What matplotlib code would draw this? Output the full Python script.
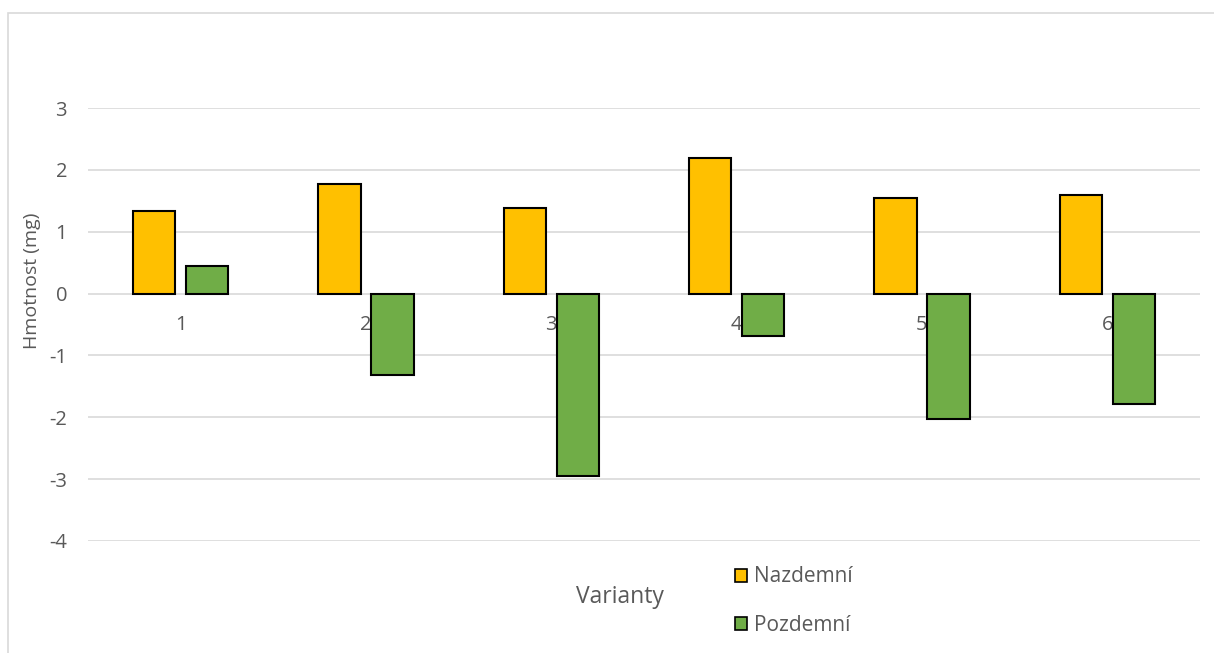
import numpy as np
import matplotlib
matplotlib.use("Agg")
import matplotlib.pyplot as plt
from matplotlib.patches import Rectangle, Patch

plt.rcParams["font.family"] = ["Open Sans", "DejaVu Sans"]
plt.rcParams["axes.unicode_minus"] = False

categories = ["1", "2", "3", "4", "5", "6"]
nazdemni = [1.34, 1.77, 1.39, 2.19, 1.55, 1.60]
pozdemni = [0.44, -1.32, -2.95, -0.69, -2.03, -1.79]
yticks = [-4, -3, -2, -1, 0, 1, 2, 3]

YELLOW = "#FFC000"
GREEN = "#70AD47"
GRID = "#D9D9D9"
TXT = "#595959"

W, H = 1214, 653
fig = plt.figure(figsize=(W / 100, H / 100), dpi=100)

# chart frame
fig.patches.append(Rectangle((8 / W, -0.05), 1.2, (H - 13) / H + 0.05,
                             transform=fig.transFigure, fill=False,
                             edgecolor=GRID, lw=1.2))

ax = fig.add_axes([88 / W, (H - 541) / H, 1112 / W, 433 / H])
x = np.arange(len(categories))
bw = 0.227
ax.bar(x - 0.143, nazdemni, bw, color=YELLOW, edgecolor="black", lw=1.5,
       label="Nazdemní", zorder=3)
ax.bar(x + 0.143, pozdemni, bw, color=GREEN, edgecolor="black", lw=1.5,
       label="Pozdemní", zorder=3)

ax.set_xlim(-0.5, 5.5)
ax.set_ylim(-4, 3)
ax.set_yticks(yticks)
ax.set_yticklabels([str(t) for t in yticks])
ax.set_xticks([])
for s in ax.spines.values():
    s.set_visible(False)
ax.tick_params(axis="y", length=0, pad=15, labelsize=14.5, labelcolor=TXT)
ax.grid(axis="y", color=GRID, lw=1.2, zorder=0)
ax.set_axisbelow(True)

# category labels sit just under the zero line
for i, c in enumerate(categories):
    ax.text(i, -0.5, c, ha="center", va="center", fontsize=14.5, color=TXT,
            zorder=2)

fig.text(32 / W, (H - 281) / H, "Hmotnost (mg)", rotation=90, ha="center",
         va="center", fontsize=14, color=TXT)
fig.text(620 / W, (H - 597) / H, "Varianty", ha="center", va="center",
         fontsize=16.5, color=TXT)

handles = [Patch(facecolor=YELLOW, edgecolor="black", lw=1.2),
           Patch(facecolor=GREEN, edgecolor="black", lw=1.2)]
fig.legend(handles, ["Nazdemní", "Pozdemní"], loc="center left",
           bbox_to_anchor=(716 / W, (H - 601) / H), frameon=False,
           handlelength=0.6, handleheight=0.6, handletextpad=0.3,
           labelspacing=1.3, fontsize=15, labelcolor=TXT)

fig.savefig("out.png", dpi=100)
